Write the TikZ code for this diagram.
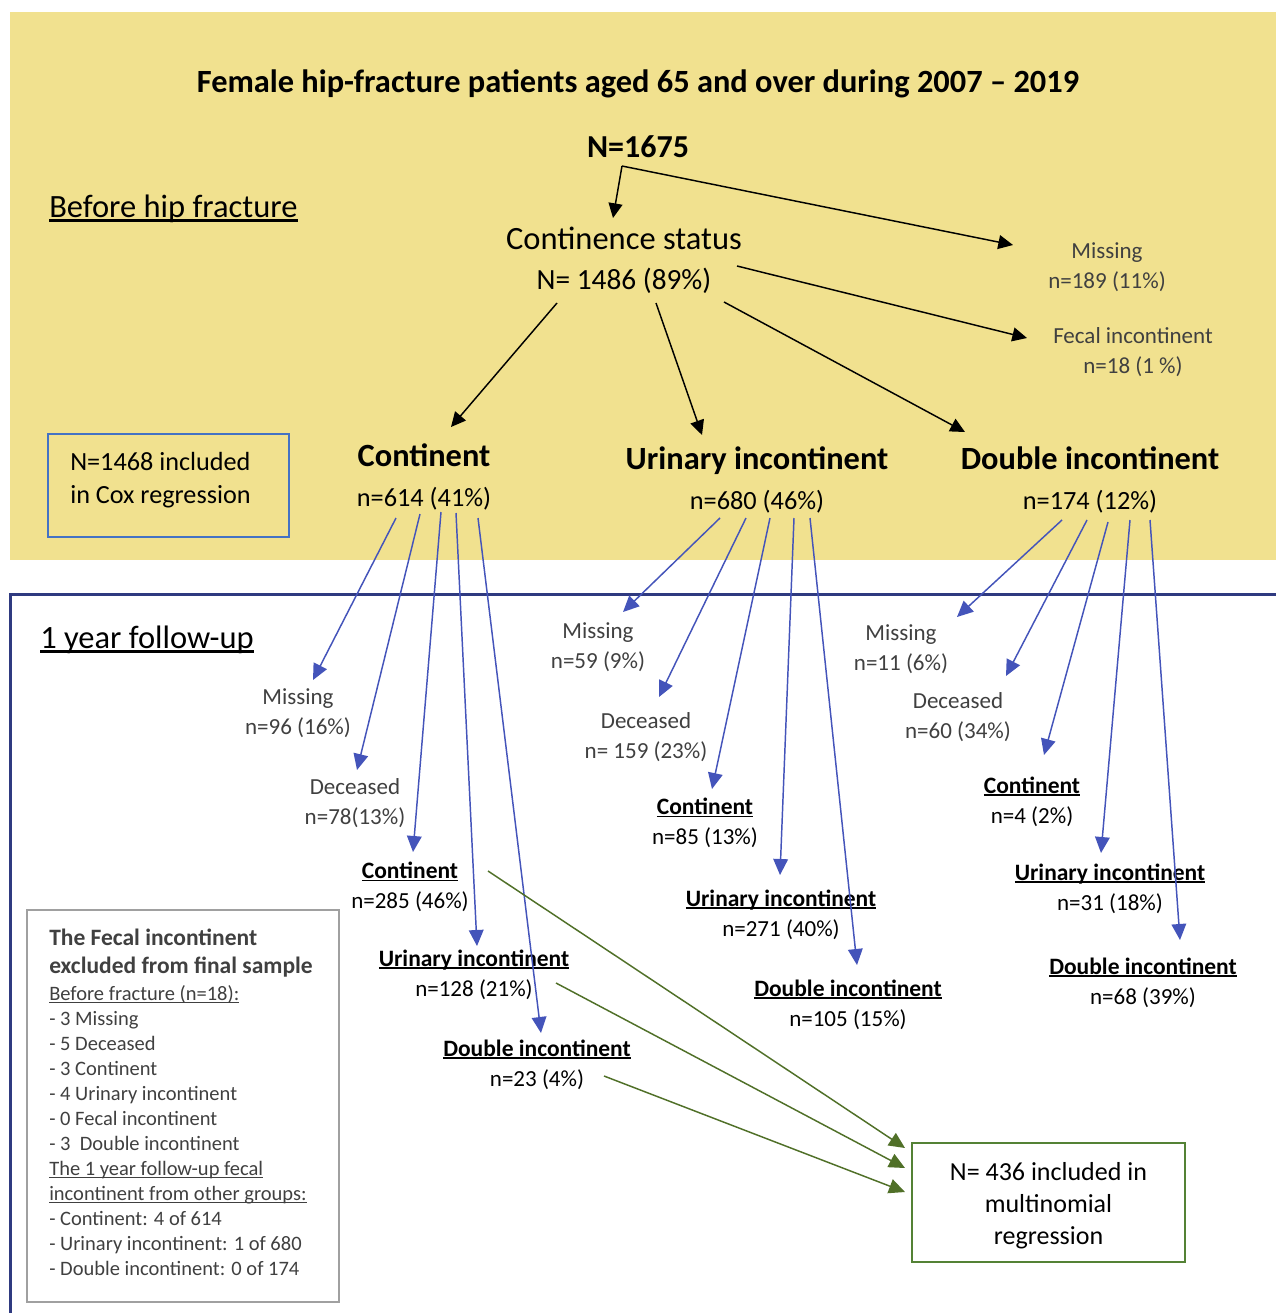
\documentclass[tikz,border=0pt]{standalone}
\usepackage{fontspec}
\setmainfont{Carlito}
\usetikzlibrary{arrows.meta}
\definecolor{bgyellow}{RGB}{241,225,143}
\definecolor{txtgray}{RGB}{64,64,64}
\definecolor{arrblue}{RGB}{68,84,186}
\definecolor{framenavy}{RGB}{47,58,128}
\definecolor{coxblue}{RGB}{68,114,196}
\definecolor{boxgreen}{RGB}{84,130,53}
\definecolor{arrgreen}{RGB}{80,112,40}
\definecolor{boxgray}{RGB}{160,160,160}
\newcommand\fpx[2]{\fontsize{\dimexpr #1pt*3/4\relax}{\dimexpr #2pt*3/4\relax}\selectfont}
\newcommand\ulx[1]{\setbox0\hbox{#1}\rlap{\rule[-0.12em]{\wd0}{0.065em}}\box0}
\tikzset{
  lbl/.style={inner sep=0pt, align=center},
  glab/.style={lbl, text=txtgray, font=\fpx{23}{30}},
  blab/.style={lbl, text=black, font=\fpx{23}{30}},
  head/.style={lbl, text=black, font=\fpx{26.3}{40}},
  karrow/.style={draw=black, line width=1.1pt, -{Triangle[length=11pt,width=10.5pt]}},
  barrow/.style={draw=arrblue, line width=1.1pt, -{Triangle[length=12pt,width=11pt]}},
  garrow/.style={draw=arrgreen, line width=1.1pt, -{Triangle[length=12pt,width=11pt]}},
}
\begin{document}
\begin{tikzpicture}[x=0.75pt,y=-0.75pt]
\useasboundingbox (0,0) rectangle (1276,1313);
\clip (0,0) rectangle (1276,1313);
\fill[white] (0,0) rectangle (1276,1313);
\fill[bgyellow] (10,12) rectangle (1276,560);
\draw[framenavy, line width=2.25pt] (1300,594) -- (10,594) -- (10,1330);

% ---- top part ----
\node[lbl, font=\fpx{32.4}{40}\bfseries] (title) at (638,84) {Female hip-fracture patients aged 65 and over during 2007 – 2019};
\node[lbl, font=\fpx{32}{40}\bfseries] (ntot) at (638,147) {N=1675};
\node[lbl, anchor=west, font=\fpx{32.5}{40}] (before) at (49,209) {\ulx{Before hip fracture}};
\node[lbl, font=\fpx{32.5}{40}] (cs) at (624,260) {Continence status\\{\fpx{29.3}{40}N= 1486 (89\%)}};
\node[glab] (tmiss) at (1107,267) {Missing\\n=189 (11\%)};
\node[glab] (tfecal) at (1133,352.5) {Fecal incontinent\\n=18 (1 \%)};
\node[head] (hc) at (424,477) {{\fpx{32.4}{40}\bfseries Continent}\\n=614 (41\%)};
\node[head] (hu) at (757,480) {{\fpx{32.4}{40}\bfseries Urinary incontinent}\\n=680 (46\%)};
\node[head] (hd) at (1090,480) {{\fpx{32.4}{40}\bfseries Double incontinent}\\n=174 (12\%)};

\node[draw=coxblue, line width=1.1pt, minimum width=180.75pt, minimum height=77.25pt, inner sep=0pt] (coxbox) at (168.5,485.5) {};
\node[lbl, anchor=west, align=left, font=\fpx{26.2}{33}] (cox) at (70,480.5) {N=1468 included\\in Cox regression};

% ---- follow-up part ----
\node[lbl, anchor=west, font=\fpx{32.5}{40}] (fu) at (40,640) {\ulx{1 year follow-up}};

\node[glab] (fcm) at (298,713.5) {Missing\\n=96 (16\%)};
\node[glab] (fcd) at (355,803.5) {Deceased\\n=78(13\%)};
\node[blab] (fcc) at (410,887) {{\fpx{23.5}{30}\bfseries\ulx{Continent}}\\n=285 (46\%)};
\node[blab] (fcu) at (474,974.5) {{\fpx{23.5}{30}\bfseries\ulx{Urinary incontinent}}\\n=128 (21\%)};
\node[blab] (fcx) at (537,1064.5) {{\fpx{23.5}{30}\bfseries\ulx{Double incontinent}}\\n=23 (4\%)};

\node[glab] (fum) at (598,647.5) {Missing\\n=59 (9\%)};
\node[glab] (fud) at (646,737.5) {Deceased\\n= 159 (23\%)};
\node[blab] (fuc) at (705,823) {{\fpx{23.5}{30}\bfseries\ulx{Continent}}\\n=85 (13\%)};
\node[blab] (fuu) at (781,914.5) {{\fpx{23.5}{30}\bfseries\ulx{Urinary incontinent}}\\n=271 (40\%)};
\node[blab] (fux) at (848,1004.5) {{\fpx{23.5}{30}\bfseries\ulx{Double incontinent}}\\n=105 (15\%)};

\node[glab] (fdm) at (901,649.5) {Missing\\n=11 (6\%)};
\node[glab] (fdd) at (958,717.5) {Deceased\\n=60 (34\%)};
\node[blab] (fdc) at (1032,801.5) {{\fpx{23.5}{30}\bfseries\ulx{Continent}}\\n=4 (2\%)};
\node[blab] (fdu) at (1110,888.5) {{\fpx{23.5}{30}\bfseries\ulx{Urinary incontinent}}\\n=31 (18\%)};
\node[blab] (fdx) at (1143,982.5) {{\fpx{23.5}{30}\bfseries\ulx{Double incontinent}}\\n=68 (39\%)};

\node[draw=boxgray, line width=1.1pt, minimum width=234pt, minimum height=294pt, inner sep=0pt] (exbox) at (183,1106) {};
\node[lbl, anchor=north west, align=left, text=txtgray, font=\fpx{20.5}{25}] (extext) at (49,929) {%
{\fpx{23.5}{28}\bfseries The Fecal incontinent}\\[2.25pt]
{\fpx{23.5}{28}\bfseries excluded from final sample}\\[1.5pt]
\ulx{Before fracture (n=18):}\\
- 3 Missing\\
- 5 Deceased\\
- 3 Continent\\
- 4 Urinary incontinent\\
- 0 Fecal incontinent\\
- 3~ Double incontinent\\
\ulx{The 1 year follow-up fecal}\\
\ulx{incontinent from other groups:}\\
- Continent: 4 of 614\\
- Urinary incontinent: 1 of 680\\
- Double incontinent: 0 of 174};

\node[draw=boxgreen, line width=1.5pt, minimum width=204.75pt, minimum height=89.25pt, inner sep=0pt] (final) at (1048.5,1202.5) {};
\node[lbl, font=\fpx{26}{32}] (finaltext) at (1048.5,1206) {N= 436 included in\\multinomial\\regression};

% ---- black connectors ----
\coordinate (k0) at (622,166);
\coordinate (k1) at (613,218);
\coordinate (k2) at (1013,245);
\coordinate (k3) at (737,266);
\coordinate (k4) at (1027,338);
\coordinate (k5) at (557,303);
\coordinate (k6) at (451,427);
\coordinate (k7) at (656,303);
\coordinate (k8) at (702,435);
\coordinate (k9) at (724,302);
\coordinate (k10) at (965,432);
\draw[karrow] (k0) -- (k1);
\draw[karrow] (k0) -- (k2);
\draw[karrow] (k3) -- (k4);
\draw[karrow] (k5) -- (k6);
\draw[karrow] (k7) -- (k8);
\draw[karrow] (k9) -- (k10);

% ---- blue connectors ----
\coordinate (c1s) at (396,518);  \coordinate (c1e) at (313,680);
\coordinate (c2s) at (420,514);  \coordinate (c2e) at (357,770);
\coordinate (c3s) at (441,512);  \coordinate (c3e) at (413,852);
\coordinate (c4s) at (456,513);  \coordinate (c4e) at (477,946);
\coordinate (c5s) at (478,518);  \coordinate (c5e) at (541,1033);
\coordinate (u1s) at (720,518);  \coordinate (u1e) at (623,612);
\coordinate (u2s) at (746,518);  \coordinate (u2e) at (659,697);
\coordinate (u3s) at (770,518);  \coordinate (u3e) at (712,789);
\coordinate (u4s) at (794,518);  \coordinate (u4e) at (780,875);
\coordinate (u5s) at (810,518);  \coordinate (u5e) at (857,965);
\coordinate (d1s) at (1062,520); \coordinate (d1e) at (957,617);
\coordinate (d2s) at (1087,520); \coordinate (d2e) at (1006,676);
\coordinate (d3s) at (1108,522); \coordinate (d3e) at (1044,755);
\coordinate (d4s) at (1130,520); \coordinate (d4e) at (1101,853);
\coordinate (d5s) at (1150,520); \coordinate (d5e) at (1180,940);
\foreach \p in {c1,c2,c3,c4,c5,u1,u2,u3,u4,u5,d1,d2,d3,d4,d5}
  {\draw[barrow] (\p s) -- (\p e);}

% ---- green connectors ----
\coordinate (g1s) at (488,871);  \coordinate (g1e) at (905,1148);
\coordinate (g2s) at (556,983);  \coordinate (g2e) at (905,1168);
\coordinate (g3s) at (604,1076); \coordinate (g3e) at (905,1192);
\foreach \p in {g1,g2,g3}
  {\draw[garrow] (\p s) -- (\p e);}
\end{tikzpicture}
\end{document}
